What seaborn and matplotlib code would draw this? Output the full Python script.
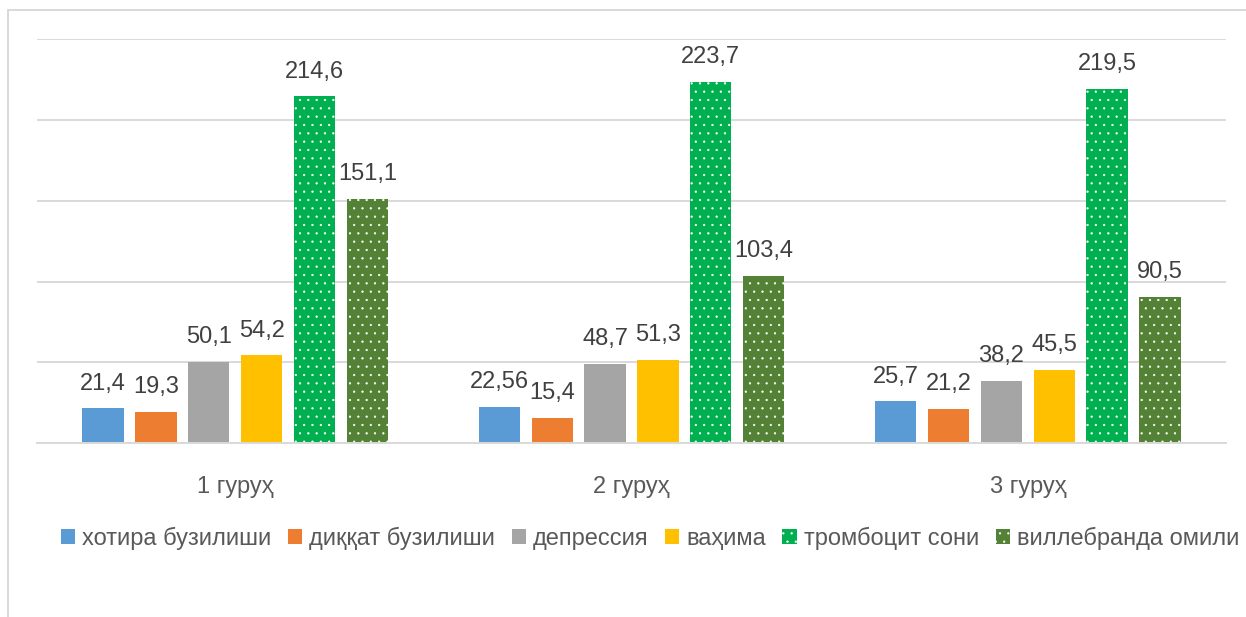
import numpy as np
import pandas as pd
import matplotlib
matplotlib.use("Agg")
import matplotlib.pyplot as plt
from matplotlib import font_manager
from matplotlib.lines import Line2D
import seaborn as sns

groups = ["1 гуруҳ", "2 гуруҳ", "3 гуруҳ"]
series = ["хотира бузилиши", "диққат бузилиши", "депрессия", "ваҳима",
          "тромбоцит сони", "виллебранда омили"]
colors = ["#5B9BD5", "#ED7D31", "#A5A5A5", "#FFC000", "#00B050", "#538135"]

memory = [21.4, 22.56, 25.7]
attention = [19.3, 15.4, 21.2]
depression = [50.1, 48.7, 38.2]
panic = [54.2, 51.3, 45.5]
platelets = [214.6, 223.7, 219.5]
willebrand = [151.1, 103.4, 90.5]
values = [memory, attention, depression, panic, platelets, willebrand]
label_text = [["21,4", "22,56", "25,7"], ["19,3", "15,4", "21,2"],
              ["50,1", "48,7", "38,2"], ["54,2", "51,3", "45,5"],
              ["214,6", "223,7", "219,5"], ["151,1", "103,4", "90,5"]]

rows = []
for s, vals in zip(series, values):
    for g, v in zip(groups, vals):
        rows.append({"group": g, "series": s, "value": v})
df = pd.DataFrame(rows)

sns.set_style("white")
# narrow font if present, else plain Arial-metric font at a smaller size
installed = {f.name for f in font_manager.fontManager.ttflist}
if "Liberation Sans Narrow" in installed:
    plt.rcParams['font.family'] = ['Liberation Sans Narrow', 'DejaVu Sans']
    FS = 20.5
else:
    plt.rcParams['font.family'] = ['Liberation Sans', 'DejaVu Sans']
    FS = 17
plt.rcParams['hatch.linewidth'] = 0.4

fig = plt.figure(figsize=(12.46, 6.17), dpi=100)
ax = fig.add_axes([37 / 1246, 174 / 617, (1226 - 37) / 1246, 403.7 / 617])

sns.barplot(data=df, x="group", y="value", hue="series", palette=colors,
            saturation=1, width=0.8, gap=0.22, linewidth=0, legend=False, ax=ax)

for i, cont in enumerate(ax.containers):
    if i >= 4:
        for p in cont.patches:
            p.set_hatch("..")
            p.set_edgecolor("white")
            p.set_linewidth(0)
    ax.bar_label(cont, labels=label_text[i], padding=10, fontsize=FS, color="#404040")

ax.set_ylim(0, 250)
ax.set_yticks(np.arange(0, 251, 50))
ax.set_yticklabels([])
ax.yaxis.grid(True, color="#D9D9D9", linewidth=1.4)
ax.set_axisbelow(True)
for side in ["top", "left", "right"]:
    ax.spines[side].set_visible(False)
ax.spines["bottom"].set_color("#D9D9D9")
ax.spines["bottom"].set_linewidth(1.4)
ax.tick_params(axis="both", length=0)
ax.tick_params(axis="x", pad=24, labelsize=FS, labelcolor="#595959")
ax.set_xlabel("")
ax.set_ylabel("")

fig.legend(handles=ax.containers, labels=series, loc="center",
           bbox_to_anchor=(650 / 1246, 0.128), ncol=6, frameon=False,
           fontsize=FS, labelcolor="#595959", handlelength=0.6, handleheight=0.6,
           handletextpad=0.3, columnspacing=0.7, borderaxespad=0)

# outer chart frame
fig.add_artist(Line2D([7.5 / 1246, 7.5 / 1246], [0, 1 - 10 / 617],
                      transform=fig.transFigure, color="#D9D9D9", linewidth=1.4))
fig.add_artist(Line2D([7.5 / 1246, 1], [1 - 10 / 617, 1 - 10 / 617],
                      transform=fig.transFigure, color="#D9D9D9", linewidth=1.4))

fig.savefig("out.png", dpi=100)
